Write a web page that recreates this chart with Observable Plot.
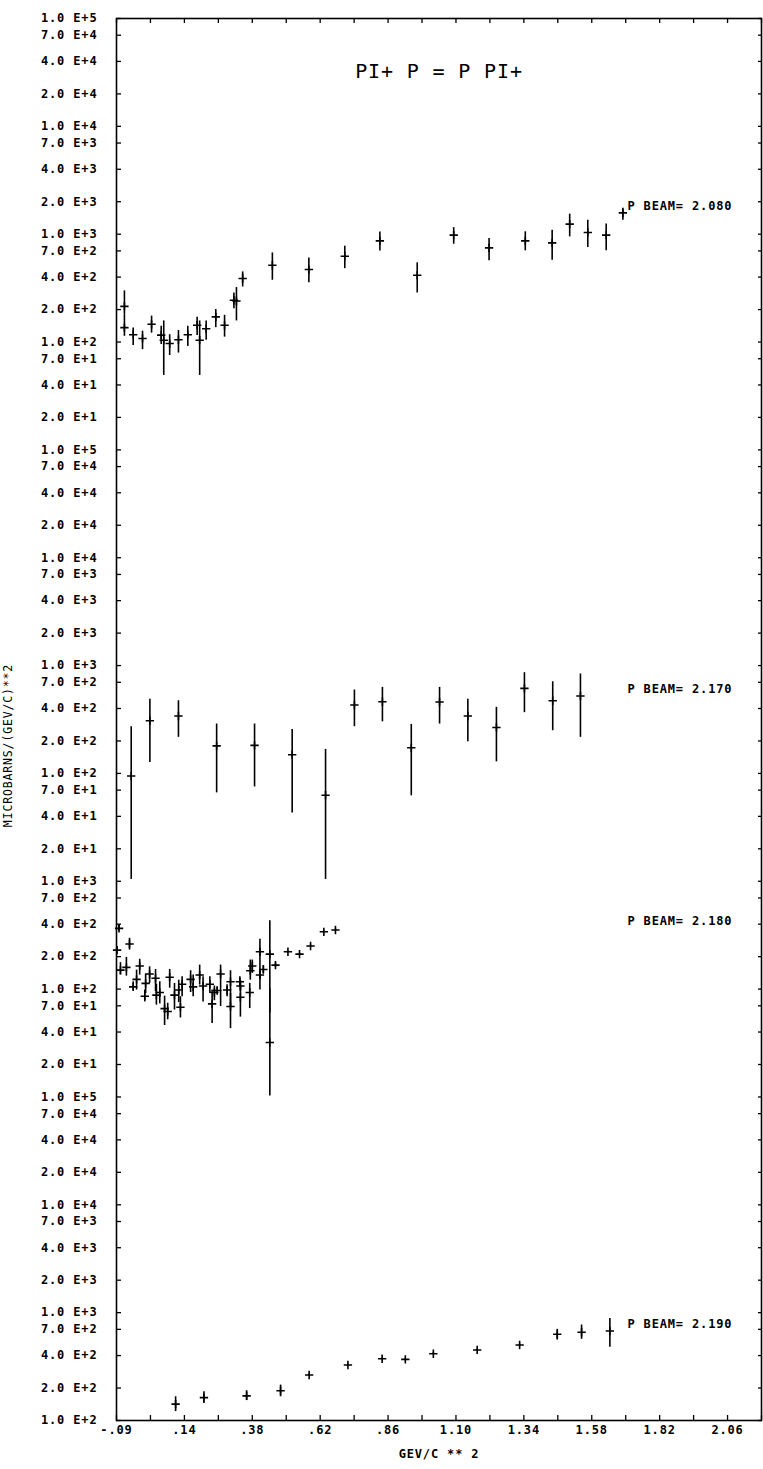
<!DOCTYPE html>
<html><head><meta charset="utf-8">
<script src="https://cdn.jsdelivr.net/npm/d3@7"></script>
<script src="https://cdn.jsdelivr.net/npm/@observablehq/plot@0.6"></script>
<style>
body{margin:0;background:#fff;}
#chart svg{display:block;}
</style></head><body><div id="chart"></div>
<script>
// ---- text ----
const title = "PI+ P = P PI+";
const xTitle = "GEV/C ** 2";
const yTitle = "MICROBARNS/(GEV/C)**2";
const xTickLabels = ["-.09", ".14", ".38", ".62", ".86", "1.10", "1.34", "1.58", "1.82", "2.06"];
const xDomain = [-0.095, 2.185];
const xMajorStep = 0.24;
const xMinorStep = 0.12;

// ---- stacked log panels (top to bottom) ----
const panelTopExp = [5, 5, 3, 5];
const panelDecades = [4, 4, 2, 3];
const tickMantissas = [1, 2, 4, 7];
const beamLabels = ["P BEAM= 2.080", "P BEAM= 2.170", "P BEAM= 2.180", "P BEAM= 2.190"];
const beamLabelX = 1.711;
const beamLabelValue = [1694, 565, 399, 741];

// ---- panel 1: P BEAM 2.080 ----
const p1x  = [-0.067,-0.067,-0.036,-0.003,0.029,0.063,0.072,0.093,0.124,0.157,0.190,0.199,0.222,0.256,0.287,0.320,0.329,0.351,0.456,0.585,0.712,0.836,0.968,1.097,1.222,1.350,1.445,1.507,1.571,1.636,1.695];
const p1y  = [214,136,117,108,146,116,104,97,105,117,143,104,133,171,143,244,240,388,515,470,625,867,416,980,746,867,831,1240,1038,980,1578];
const p1hi = [298,177,135,126,174,140,157,117,128,140,170,157,157,200,177,285,320,447,670,603,774,1050,543,1150,912,1052,1090,1535,1350,1240,1740];
const p1lo = [177,113,93,85,121,95,49,75,79,91,115,49,104,136,111,204,157,324,374,354,479,700,285,807,566,701,574,944,753,701,1350];

// ---- panel 2: P BEAM 2.170 ----
const p2x  = [-0.043,0.023,0.124,0.259,0.393,0.526,0.644,0.746,0.845,0.947,1.047,1.147,1.248,1.347,1.447,1.545];
const p2y  = [94.6,308,341,180,182,149,62.7,431,462,173,459,341,267,615,472,522];
const p2hi = [271,486,472,287,287,256,167,593,628,285,628,486,410,859,708,836];
const p2lo = [10.4,126,216,66,75,43,10.4,271,301,62,287,197,128,366,249,216];

// ---- panel 3: P BEAM 2.180 ----
const p3x  = [-0.093,-0.086,-0.081,-0.060,-0.049,-0.036,-0.024,-0.013,0.005,0.008,0.022,0.043,0.046,0.058,0.075,0.086,0.093,0.110,0.125,0.131,0.137,0.167,0.176,0.199,0.211,0.235,0.243,0.251,0.261,0.273,0.296,0.308,0.308,0.341,0.343,0.343,0.376,0.378,0.385,0.412,0.412,0.424,0.447,0.447,0.467,0.511,0.552,0.591,0.638,0.679];
const p3y  = [230,366,150,159,262,105,123,164,86,113,138,126,88,93,66,62,129,88,98,68,111,123,105,135,107,111,73,93,97,138,98,117,69,117,107,84,93,148,164,222,135,152,211,32,167,222,211,251,340,353];
const p3hi = [236,390,176,197,296,117,150,189,98,138,161,152,111,117,86,74,152,113,121,85,130,148,135,167,130,130,98,107,105,167,110,148,91,130,120,107,113,186,186,290,148,165,431,100,175,226,215,256,346,360];
const p3lo = [224,345,135,132,230,97,98,135,76,91,113,95,71,73,46,52,102,64,75,54,85,93,85,109,76,91,48,78,90,69,85,69,43,105,95,55,66,121,140,98,125,140,60,10.2,160,217,206,246,334,347];

// ---- panel 4: P BEAM 2.190 ----
const p4x  = [0.114,0.214,0.365,0.485,0.586,0.723,0.844,0.926,1.025,1.180,1.330,1.463,1.549,1.649];
const p4y  = [142,163,169,189,264,327,374,369,416,451,501,630,658,676];
const p4hi = [166,185,189,213,270,334,382,377,425,460,511,700,768,885];
const p4lo = [121,144,153,166,258,320,366,361,407,442,491,557,566,478];

// ---- build ----
const panels = [
  {x: p1x, y: p1y, hi: p1hi, lo: p1lo},
  {x: p2x, y: p2y, hi: p2hi, lo: p2lo},
  {x: p3x, y: p3y, hi: p3hi, lo: p3lo},
  {x: p4x, y: p4y, hi: p4hi, lo: p4lo}
];
const nP = panels.length;
const totalDecades = d3.sum(panelDecades);
const base = panelDecades.map((_, i) => d3.sum(panelDecades.slice(i + 1)));
const g = (v, i) => base[i] + Math.log10(v) - (panelTopExp[i] - panelDecades[i]);

const rows = [];
panels.forEach((p, i) => p.x.forEach((xv, j) => rows.push({
  x: xv, gy: g(p.y[j], i), ghi: g(p.hi[j], i), glo: g(p.lo[j], i)
})));
const bars = rows.filter(r => r.ghi - r.glo > 1e-6);

const yTicks = [];
const yLabel = new Map();
panelTopExp.forEach((top, i) => {
  const bottom = top - panelDecades[i];
  for (let e = top; e >= bottom; e--) {
    for (const m of tickMantissas) {
      if (e === top && m > 1) continue;
      if (e === bottom && m === 1 && i !== nP - 1) continue;
      const pos = g(m * Math.pow(10, e), i);
      yTicks.push(pos);
      yLabel.set(pos, `${m}.0 E+${e}`);
    }
  }
});

const nMajor = xTickLabels.length;
const xMajor = d3.range(nMajor).map(k => xDomain[0] + k * xMajorStep);
const xMinor = d3.range(Math.round((xDomain[1] - xDomain[0]) / xMinorStep) + 1).map(k => xDomain[0] + k * xMinorStep);
const xLabel = new Map(xMajor.map((v, k) => [v, xTickLabels[k]]));

const beamRows = beamLabels.map((t, i) => ({t, x: beamLabelX, gy: g(beamLabelValue[i], i)}));

const font = "DejaVu Sans Mono";
const chart = Plot.plot({
  width: 763,
  height: 1469,
  marginTop: 18,
  marginBottom: 49,
  marginLeft: 116,
  marginRight: 2,
  style: {fontFamily: font, fontSize: "12px", color: "#000", background: "#fff", letterSpacing: "0.85px"},
  x: {domain: xDomain},
  y: {domain: [0, totalDecades]},
  marks: [
    Plot.frame({stroke: "#000", strokeWidth: 1.6}),
    // left axis labels + inward ticks
    Plot.axisY(yTicks, {anchor: "left", tickSize: 0, tickPadding: 19, tickFormat: d => yLabel.get(d), label: null, fontSize: 12, fontWeight: "bold"}),
    Plot.axisY(yTicks, {anchor: "left", tickSize: 5, dx: 5, fill: "none", label: null, strokeWidth: 1.3}),
    Plot.axisY(yTicks, {anchor: "right", tickSize: 4, dx: -4, fill: "none", label: null, strokeWidth: 1.3}),
    // x axis
    Plot.axisX(xMajor, {anchor: "bottom", tickSize: 0, tickPadding: 5, tickFormat: d => xLabel.get(d), label: null, fontSize: 12, fontWeight: "bold"}),
    Plot.axisX(xMinor, {anchor: "bottom", tickSize: 5, dy: -5, fill: "none", label: null, strokeWidth: 1.3}),
    Plot.axisX(xMinor, {anchor: "top", tickSize: 4, dy: 4, fill: "none", label: null, strokeWidth: 1.3}),
    // error bars and crosses
    Plot.ruleX(bars, {x: "x", y1: "glo", y2: "ghi", stroke: "#000", strokeWidth: 1.6}),
    Plot.dot(rows, {x: "x", y: "gy", symbol: "plus", r: 2.8, stroke: "#000", strokeWidth: 1.6}),
    // beam labels
    Plot.text(beamRows, {x: "x", y: "gy", text: "t", textAnchor: "start", fontSize: 12, fontWeight: "bold", dy: -3}),
    // titles
    Plot.text([title], {frameAnchor: "top", dy: 45, fontSize: 20}),
    Plot.text([xTitle], {frameAnchor: "bottom", dy: 37, fontSize: 12, fontWeight: "bold"}),
    Plot.text([yTitle], {frameAnchor: "left", textAnchor: "middle", dx: -108, dy: 26, rotate: -90, fontSize: 11.5, ariaLabel: "ytitle"})
  ]
});
d3.select(chart).selectAll('g[aria-label="ytitle"] text').style("letter-spacing", "3.4px");
document.getElementById("chart").appendChild(chart);
</script></body></html>
